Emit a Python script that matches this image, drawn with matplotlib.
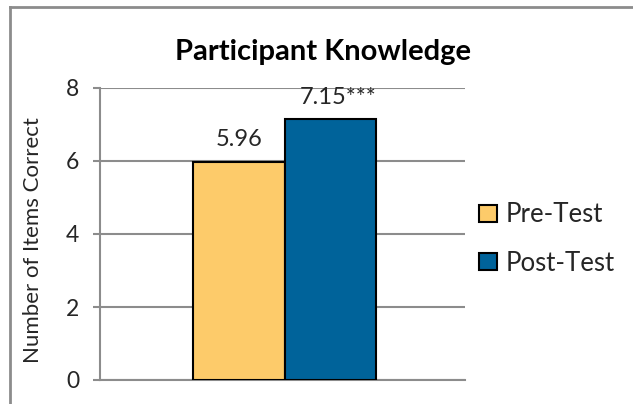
import matplotlib
matplotlib.use("Agg")
import matplotlib.pyplot as plt
from matplotlib.lines import Line2D
from matplotlib.patches import Patch

series = ["Pre-Test", "Post-Test"]
values = [5.96, 7.15]
labels = ["5.96", "7.15***"]
colors = ["#FDCB6A", "#00639A"]
yticks = [0, 2, 4, 6, 8]

plt.rcParams['font.family'] = ['Lato', 'DejaVu Sans']

fig = plt.figure(figsize=(6.33, 4.04), dpi=100)
W, H = 633, 404
ax = fig.add_axes([100 / W, 1 - 380 / H, 365 / W, 292 / H])

positions = [-0.5, 0.5]
for p, v, c, s in zip(positions, values, colors, series):
    ax.bar(p, v, width=1.0, color=c, edgecolor="black", linewidth=1.5, zorder=3, label=s)

ax.text(positions[0], values[0] + 0.44, labels[0], ha="center", va="baseline", fontsize=17, color="#262626")
ax.text(positions[1] - 0.34, values[1] + 0.42, labels[1], ha="left", va="baseline", fontsize=17, color="#262626")

ax.set_xlim(-2.02, 1.97)
ax.set_ylim(0, 8)
ax.set_yticks(yticks)
ax.set_yticklabels([str(t) for t in yticks], fontsize=16.5, color="#262626")
ax.set_xticks([])
ax.yaxis.grid(True, color="#8c8c8c", linewidth=1.5, zorder=0)
ax.tick_params(axis="y", length=5, width=1.5, color="#8c8c8c", pad=10)
for side in ["top", "right"]:
    ax.spines[side].set_visible(False)
ax.spines["left"].set_color("#8c8c8c")
ax.spines["left"].set_linewidth(1.5)
ax.spines["bottom"].set_color("#8c8c8c")
ax.spines["bottom"].set_linewidth(1.5)
ax.set_ylabel("Number of Items Correct", fontsize=16, color="#262626")
ax.yaxis.set_label_coords(-(100 - 43) / 365, 0.48)

fig.text(323 / W, 1 - 52 / H, "Participant Knowledge", ha="center", va="center",
         fontsize=21, fontweight="bold", color="black")

handles = [Patch(facecolor=c, edgecolor="black", linewidth=1.5) for c in colors]
fig.legend(handles, series, loc="center left", bbox_to_anchor=(456 / W, 1 - 239 / H),
           frameon=False, fontsize=18.5, handlelength=0.68, handleheight=0.68,
           handletextpad=0.35, labelspacing=0.9, labelcolor="#262626")

# outer chart frame (cropped on right and bottom)
fig.add_artist(Line2D([10 / W, 10 / W], [0, 1 - 7 / H], color="#8c8c8c", linewidth=2, transform=fig.transFigure))
fig.add_artist(Line2D([10 / W, 1], [1 - 7 / H, 1 - 7 / H], color="#8c8c8c", linewidth=2, transform=fig.transFigure))

fig.savefig("out.png", dpi=100)
